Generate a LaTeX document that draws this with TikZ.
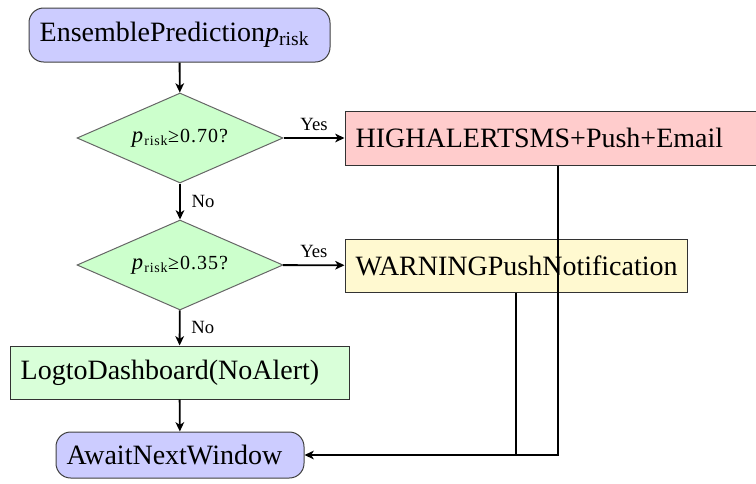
\documentclass[tikz,border=0pt]{standalone}
\usepackage{fontspec}
\setmainfont{Liberation Serif}
\usetikzlibrary{shapes.geometric,arrows.meta}

\definecolor{warnfill}{HTML}{FFF9D0}
\definecolor{logfill}{HTML}{D9FFD9}

\tikzset{every picture/.style={line width=0.75pt}}
\tikzset{
  roundbox/.style={draw=black!75, fill=blue!20, rounded corners=11pt, inner xsep=8pt, align=left, font=\fontsize{21}{25}\selectfont},
  actbox/.style={draw=black!80, inner xsep=8pt, align=left, font=\fontsize{21}{25}\selectfont},
  decision/.style={diamond, aspect=2.3, draw=black!60, fill=green!20, inner sep=0pt, minimum width=154.5pt, minimum height=67.5pt, font=\fontsize{15}{18}\selectfont\addfontfeature{LetterSpace=5}},
  flow/.style={-{Stealth[length=7pt,width=6.5pt,inset=2pt]}, line width=1.4pt},
  lbl/.style={font=\fontsize{14}{16}\selectfont, inner sep=2pt}
}

\begin{document}
\begin{tikzpicture}[x=0.75pt,y=0.75pt,yscale=-1,xscale=1]
	\clip (0,0) rectangle (756,483);

	%Shape: Rounded Rect [start]
	\node[roundbox, text width=209.75pt, minimum height=40.5pt] (ens) at (179.5,35) {EnsemblePrediction\textit{p}\textsubscript{risk}};
	%Shape: Diamond [first test]
	\node[decision] (dec1) at (180,138) {\textit{\fontsize{17}{18}\selectfont p}\textsubscript{risk}≥0.70?};
	%Shape: Rectangle [high alert]
	\node[actbox, fill=red!20, text width=303.5pt, minimum height=40.5pt] (high) at (558,138) {HIGHALERTSMS+Push+Email};
	%Shape: Diamond [second test]
	\node[decision] (dec2) at (180,265) {\textit{\fontsize{17}{18}\selectfont p}\textsubscript{risk}≥0.35?};
	%Shape: Rectangle [warning]
	\node[actbox, fill=warnfill, text width=240.5pt, minimum height=39.75pt] (warn) at (516,265.5) {WARNINGPushNotification};
	%Shape: Rectangle [log]
	\node[actbox, fill=logfill, text width=238.25pt, minimum height=39.75pt] (log) at (179.5,372.5) {LogtoDashboard(NoAlert)};
	%Shape: Rounded Rect [wait]
	\node[roundbox, text width=170pt, minimum height=34.5pt] (await) at (180,455) {AwaitNextWindow};

	% Connectors
	\draw[flow] (ens) -- (dec1);
	\draw[flow] (dec1) -- node[lbl, above=3pt] (yes1) {Yes} (high);
	\draw[flow] (dec1) -- node[lbl, right=6pt] (no1) {No} (dec2);
	\draw[flow] (dec2) -- node[lbl, above=3pt] (yes2) {Yes} (warn);
	\draw[flow] (dec2) -- node[lbl, right=6pt] (no2) {No} (log);
	\draw[flow] (log) -- (await);
	\draw[flow] (high.south) |- (await.east);
	\draw[line width=1.4pt] (warn.south) -- (warn.south |- await.east);

\end{tikzpicture}
\end{document}
